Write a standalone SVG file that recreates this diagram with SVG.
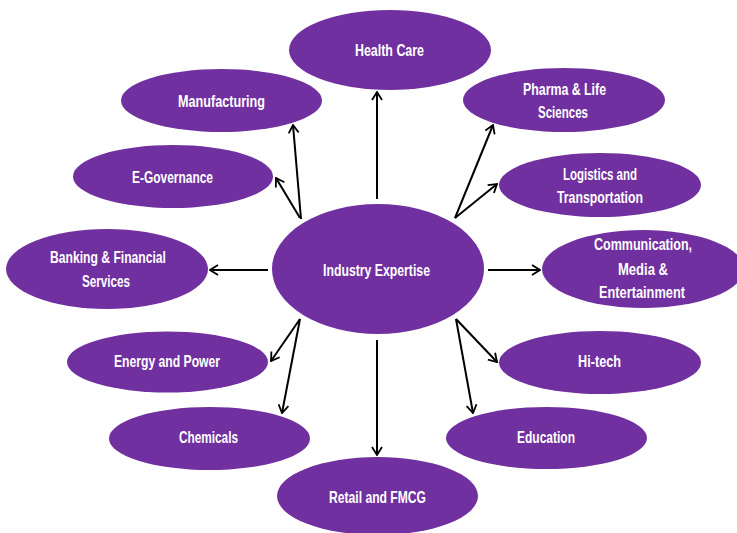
<svg xmlns="http://www.w3.org/2000/svg" width="737" height="533" viewBox="0 0 737 533">
<style>
.n{fill:#7030A0;}
.t{fill:#ffffff;font-family:"Liberation Sans Narrow","Liberation Sans",Arial,sans-serif;font-weight:bold;font-size:17px;text-anchor:middle;}
.c{stroke:#000;stroke-width:2;fill:none;marker-end:url(#ah);}
</style>
<defs>
<marker id="ah" markerUnits="userSpaceOnUse" viewBox="0 0 10 12" refX="9" refY="6" markerWidth="10" markerHeight="12" orient="auto">
<path d="M1,1 L9,6 L1,11" fill="none" stroke="#000" stroke-width="1.8"/>
</marker>
</defs>
<rect width="737" height="533" fill="#ffffff"/>
<g id="connectors">
<line class="c" x1="377" y1="199" x2="377" y2="92"/>
<line class="c" x1="301" y1="219" x2="293" y2="125"/>
<line class="c" x1="300" y1="218" x2="276" y2="178"/>
<line class="c" x1="268" y1="270" x2="210" y2="270"/>
<line class="c" x1="300" y1="319" x2="271" y2="361"/>
<line class="c" x1="300" y1="319" x2="282" y2="413"/>
<line class="c" x1="377" y1="340" x2="377" y2="455"/>
<line class="c" x1="455" y1="218" x2="493" y2="125"/>
<line class="c" x1="455" y1="218" x2="497" y2="184"/>
<line class="c" x1="488" y1="270" x2="540" y2="270"/>
<line class="c" x1="456" y1="319" x2="497" y2="362"/>
<line class="c" x1="456" y1="319" x2="473" y2="413"/>
</g>
<g id="industry-expertise">
<ellipse class="n" cx="378" cy="269" rx="106" ry="65"/>
<text class="t" x="376.5" y="276" textLength="107" lengthAdjust="spacingAndGlyphs">Industry Expertise</text>
</g>
<g id="health-care">
<ellipse class="n" cx="390" cy="50" rx="101" ry="40"/>
<text class="t" x="389.5" y="56" textLength="69" lengthAdjust="spacingAndGlyphs">Health Care</text>
</g>
<g id="manufacturing">
<ellipse class="n" cx="221.5" cy="100.5" rx="100.5" ry="31.5"/>
<text class="t" x="221.5" y="107" textLength="87" lengthAdjust="spacingAndGlyphs">Manufacturing</text>
</g>
<g id="e-governance">
<ellipse class="n" cx="173" cy="176.5" rx="100" ry="31.5"/>
<text class="t" x="172.5" y="183" textLength="81" lengthAdjust="spacingAndGlyphs">E-Governance</text>
</g>
<g id="banking">
<ellipse class="n" cx="107" cy="269" rx="101" ry="40"/>
<text class="t" x="108" y="263" textLength="116" lengthAdjust="spacingAndGlyphs">Banking &amp; Financial</text>
<text class="t" x="106" y="287" textLength="48" lengthAdjust="spacingAndGlyphs">Services</text>
</g>
<g id="energy">
<ellipse class="n" cx="167.5" cy="362" rx="100.5" ry="30.5"/>
<text class="t" x="167" y="367" textLength="106" lengthAdjust="spacingAndGlyphs">Energy and Power</text>
</g>
<g id="chemicals">
<ellipse class="n" cx="209.5" cy="438.5" rx="100.5" ry="31.5"/>
<text class="t" x="208.5" y="443" textLength="59" lengthAdjust="spacingAndGlyphs">Chemicals</text>
</g>
<g id="retail">
<ellipse class="n" cx="377.5" cy="496" rx="100.5" ry="39"/>
<text class="t" x="377.5" y="503" textLength="97" lengthAdjust="spacingAndGlyphs">Retail and FMCG</text>
</g>
<g id="pharma">
<ellipse class="n" cx="564" cy="100" rx="101" ry="32"/>
<text class="t" x="564.5" y="95" textLength="83" lengthAdjust="spacingAndGlyphs">Pharma &amp; Life</text>
<text class="t" x="563" y="118" textLength="50" lengthAdjust="spacingAndGlyphs">Sciences</text>
</g>
<g id="logistics">
<ellipse class="n" cx="600" cy="185" rx="101" ry="32"/>
<text class="t" x="600" y="180" textLength="74" lengthAdjust="spacingAndGlyphs">Logistics and</text>
<text class="t" x="600" y="203" textLength="86" lengthAdjust="spacingAndGlyphs">Transportation</text>
</g>
<g id="communication">
<ellipse class="n" cx="643" cy="269" rx="101" ry="39"/>
<text class="t" x="643" y="250" textLength="98" lengthAdjust="spacingAndGlyphs">Communication,</text>
<text class="t" x="643" y="275" textLength="50" lengthAdjust="spacingAndGlyphs">Media &amp;</text>
<text class="t" x="642" y="298" textLength="86" lengthAdjust="spacingAndGlyphs">Entertainment</text>
</g>
<g id="hi-tech">
<ellipse class="n" cx="600" cy="362.5" rx="101" ry="31.5"/>
<text class="t" x="599.5" y="367" textLength="43" lengthAdjust="spacingAndGlyphs">Hi-tech</text>
</g>
<g id="education">
<ellipse class="n" cx="546.5" cy="438" rx="100.5" ry="31"/>
<text class="t" x="546" y="443" textLength="58" lengthAdjust="spacingAndGlyphs">Education</text>
</g>
</svg>
